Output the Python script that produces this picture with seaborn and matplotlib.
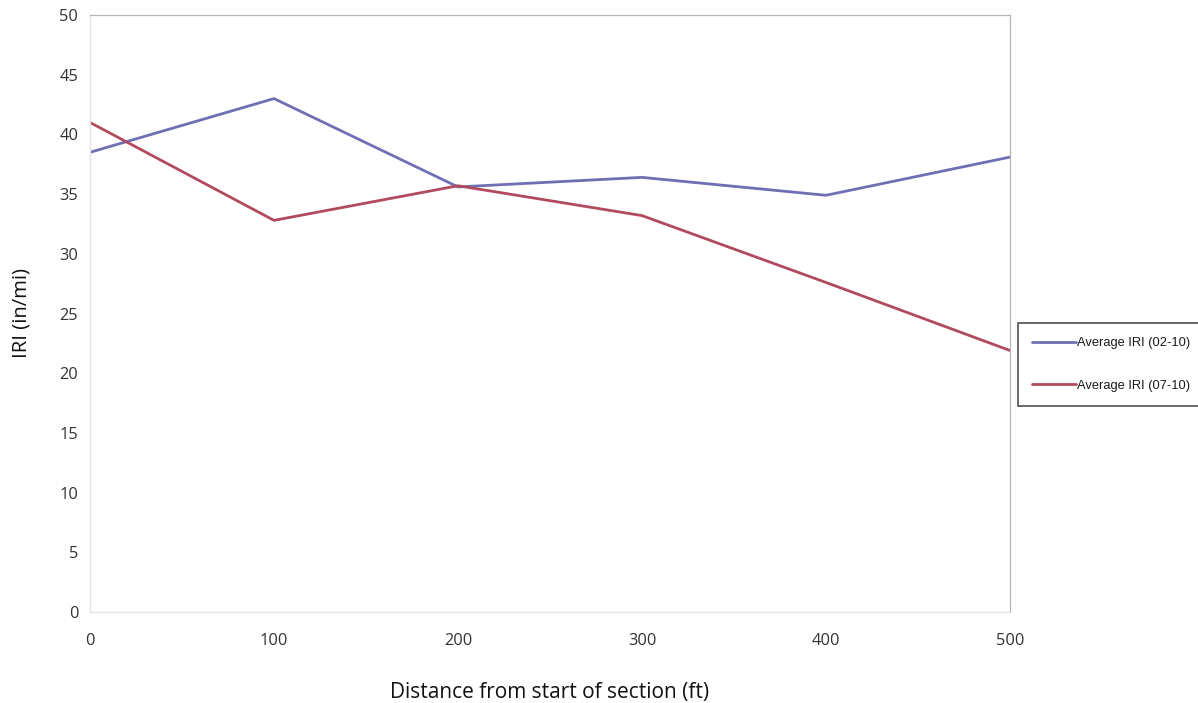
import matplotlib
matplotlib.use("Agg")
import matplotlib.pyplot as plt
import seaborn as sns
import pandas as pd

distance = [0, 100, 200, 300, 400, 500]
iri_02_10 = [38.5, 43.0, 35.6, 36.4, 34.9, 38.1]
iri_07_10 = [41.0, 32.8, 35.7, 33.2, 27.6, 21.9]
series_names = ["Average IRI (02-10)", "Average IRI (07-10)"]
y_ticks = list(range(0, 51, 5))

df = pd.DataFrame({
    "Distance": distance * 2,
    "IRI": iri_02_10 + iri_07_10,
    "Series": [series_names[0]] * len(distance) + [series_names[1]] * len(distance),
})

sns.set_theme(style="white")
plt.rcParams['font.family'] = ['Open Sans', 'DejaVu Sans']

fig = plt.figure(figsize=(11.98, 7.03), dpi=100)
ax = fig.add_axes([90/1198, 91/703, 920/1198, 597/703])

sns.lineplot(data=df, x="Distance", y="IRI", hue="Series",
             palette=["#6f6fb3", "#b24a5e"], linewidth=2.0, ax=ax, legend=True)

ax.set_xlim(0, 500)
ax.set_ylim(0, 50)
ax.set_xticks(distance)
ax.set_yticks(y_ticks)
ax.tick_params(axis='both', labelsize=11.8, colors='#333333', length=0)
ax.tick_params(axis='x', pad=15)
ax.tick_params(axis='y', pad=8.5)
for side in ['top', 'right']:
    ax.spines[side].set_color('#b5b5b5')
    ax.spines[side].set_linewidth(0.9)
for side in ['left', 'bottom']:
    ax.spines[side].set_color('#e2e2e2')
    ax.spines[side].set_linewidth(0.9)

ax.set_xlabel("Distance from start of section (ft)", fontsize=15, labelpad=24, color='#111111')
ax.set_ylabel("IRI (in/mi)", fontsize=14.6, labelpad=20, color='#111111')

leg = ax.legend(loc='upper left', bbox_to_anchor=(1018/1198, (703-323)/703),
                bbox_transform=fig.transFigure, frameon=True, fancybox=False,
                prop={'family': 'Liberation Sans', 'size': 9.3},
                handlelength=3.4, handletextpad=0.05, labelspacing=2.35,
                borderpad=1.1, borderaxespad=0)
leg.get_frame().set_edgecolor('#222222')
leg.get_frame().set_linewidth(1.2)
for t in leg.get_texts():
    t.set_color('#1a1a1a')

fig.savefig("out.png", dpi=100)
